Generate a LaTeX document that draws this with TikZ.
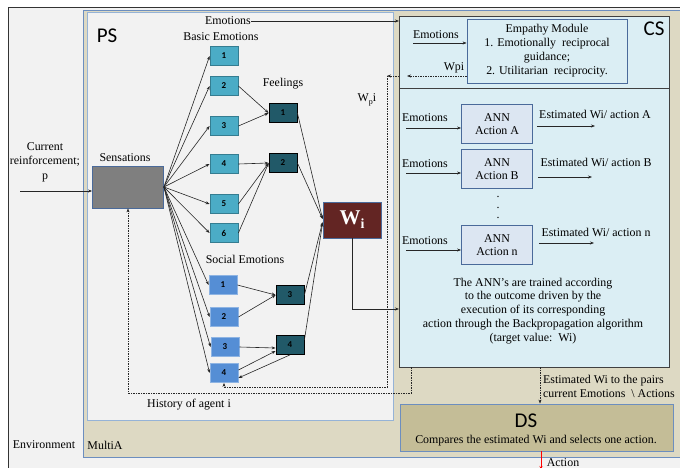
\documentclass[tikz,border=0pt]{standalone}
\usepackage{fontspec}
\setmainfont{Liberation Serif}
\newfontfamily\calfont{Carlito}
\usetikzlibrary{arrows.meta}
\definecolor{envbg}{HTML}{F2F2F2}
\definecolor{multibg}{HTML}{DDD9C3}
\definecolor{multiline}{HTML}{6C8EBF}
\definecolor{psline}{HTML}{95B3D7}
\definecolor{csbg}{HTML}{DBEEF4}
\definecolor{annbg}{HTML}{DCE6F2}
\definecolor{annline}{HTML}{4A6A9A}
\definecolor{basicfill}{HTML}{4BACC6}
\definecolor{basicline}{HTML}{357D91}
\definecolor{socialfill}{HTML}{558ED5}
\definecolor{socialline}{HTML}{8EB4E3}
\definecolor{feelfill}{HTML}{215968}
\definecolor{wifill}{HTML}{632523}
\definecolor{sensfill}{HTML}{7F7F7F}
\definecolor{dsfill}{HTML}{C4BD97}
\begin{document}
\begin{tikzpicture}[x=1pt,y=-1pt,
  font=\fontsize{11.9}{13.5}\selectfont,
  >={Stealth[length=4pt,width=3pt]},
  conn/.style={draw=black!85,line width=0.6pt,->},
  dconn/.style={draw=black!85,line width=0.6pt,dash pattern=on 1.5pt off 1pt},
  numbox/.style={inner sep=0,minimum width=28,minimum height=19,font=\calfont\bfseries\fontsize{9}{10}\selectfont,line width=0.8pt},
  basicbox/.style={numbox,draw=basicline,fill=basicfill},
  socialbox/.style={numbox,draw=socialline,fill=socialfill},
  feelbox/.style={numbox,draw=black,fill=feelfill,text=black},
  annbox/.style={draw=annline,fill=annbg,line width=0.8pt,minimum width=71,minimum height=39,inner sep=0,align=center,font=\fontsize{11.9}{13}\selectfont},
  lbl/.style={inner sep=0},
  biglbl/.style={inner sep=0,font=\calfont\fontsize{21}{22}\selectfont}
]
\useasboundingbox (0,0) rectangle (680,468);
% environment
\fill[white] (0,0) rectangle (680,468);
\fill[envbg] (8,7) rectangle (680,468);
\draw[line width=0.8pt,black!80] (680,7) -- (8,7) -- (8,468);
% MultiA
\fill[multibg] (83,10) rectangle (680,457);
\draw[line width=0.8pt,multiline] (680,10) -- (83,10) -- (83,457) -- (680,457);
% PS
\draw[line width=0.8pt,psline,fill=envbg] (87,12) rectangle (393,420);
% CS
\draw[line width=0.8pt,black!75,fill=csbg] (399,16) rectangle (669,367);
\draw[line width=0.8pt,black!75] (399,88) -- (669,88);
% labels
\node[biglbl] (pslbl) at (107,36) {PS};
\node[biglbl] (cslbl) at (654,29) {CS};
\node[lbl] (envlbl) at (44,445) {Environment};
\node[lbl] (multilbl) at (105,445) {MultiA};
\node[lbl,align=center,font=\fontsize{11.9}{14.5}\selectfont] (cur) at (45,162) {Current\\reinforcement;\\p};
\node[lbl] (senslbl) at (125,158) {Sensations};
\node[lbl] (basiclbl) at (221,37) {Basic Emotions};
\node[lbl] (feellbl) at (283,84) {Feelings};
\node[lbl] (sociallbl) at (245,259) {Social Emotions};
\node[lbl] (hist) at (189,405) {History of agent i};
\node[lbl] (wpilbl) at (367,100) {W\raisebox{-0.5ex}{\fontsize{8}{8}\selectfont p}i};
% Sensations
\node[draw=annline,fill=sensfill,line width=0.8pt,minimum width=71,minimum height=42,inner sep=0] (sens) at (128,187) {};
\coordinate (curstart) at (20,191);
\draw[conn] (curstart) -- ([yshift=-4pt]sens.west);
% basic emotions
\node[basicbox] (b1) at (224,56) {1};
\node[basicbox] (b2) at (224,86) {2};
\node[basicbox] (b3) at (224,126) {3};
\node[basicbox] (b4) at (224,164) {4};
\node[basicbox] (b5) at (224,204) {5};
\node[basicbox] (b6) at (224,233) {6};
% social emotions
\node[socialbox] (s1) at (223,285) {1};
\node[socialbox] (s2) at (224,317) {2};
\node[socialbox] (s3) at (225,347) {3};
\node[socialbox] (s4) at (224,373) {4};
% feelings
\node[feelbox] (f1) at (283,113) {1};
\node[feelbox] (f2) at (283,163) {2};
\node[feelbox] (f3) at (290,295) {3};
\node[feelbox] (f4) at (290,345) {4};
% Wi
\node[draw=annline,fill=wifill,line width=0.8pt,minimum width=58,minimum height=36,inner sep=0,text=white,font=\bfseries\fontsize{21}{21}\selectfont] (wi) at (352,220) {W\raisebox{-0.4ex}{\fontsize{14}{14}\selectfont i}};
% fan from sensations
\foreach \t in {b1,b2,b3,b4,b5,b6,s1,s2,s3,s4}{
  \draw[conn] (sens.east) -- (\t.west);
}
% basic -> feelings
\draw[conn] (b2.east) -- (f1.west);
\draw[conn] (b3.east) -- (f1.west);
\draw[conn] (b4.east) -- (f2.west);
\draw[conn] (b5.east) -- (f2.west);
\draw[conn] (b6.east) -- (f2.west);
% social -> feelings
\draw[conn] (s1.east) -- (f3.west);
\draw[conn] (s2.east) -- (f3.west);
\draw[conn] (s3.east) -- ([yshift=-3pt]f4.west);
\draw[conn] ([yshift=3pt]s4.east) -- ([yshift=-6pt]f4.west);
\draw[conn] (f4.south) -- ([yshift=-5pt]s4.east);
% feelings -> Wi
\draw[conn] (f1.east) -- ([yshift=1pt]wi.west);
\draw[conn] (f2.east) -- ([yshift=1pt]wi.west);
\draw[conn] (f3.east) -- ([yshift=-2pt]wi.west);
\draw[conn] ([yshift=5pt]f4.east) -- ([yshift=-3pt]wi.west);
% Wi -> CS
\coordinate (wicorner) at (352,309);
\coordinate (csin) at (399,309);
\draw[conn] (wi.south) -- (wicorner) -- (csin);
% top Emotions -> CS
\node[lbl] (emotop) at (228,21) {Emotions};
\coordinate (cstopin) at (399,21);
\draw[conn] (emotop.east) -- (cstopin);
% Empathy module
\node[draw=annline,fill=csbg,line width=0.8pt,minimum width=160,minimum height=64,inner sep=0,align=center,font=\fontsize{11.9}{14}\selectfont] (emp) at (547,51) {Empathy Module\\1. Emotionally\ \ reciprocal\\guidance;\\2. Utilitarian\ \ reciprocity.};
\node[lbl] (emoemp) at (436,35) {Emotions};
\coordinate (emoempstart) at (413,43);
\draw[conn] (emoempstart) -- ([yshift=8pt]emp.west);
\node[lbl] (wpitxt) at (454,68) {Wpi};
\coordinate (wpiend) at (407,76);
\coordinate (wpiedge) at (399,76);
\coordinate (wpicorner) at (387,76);
\coordinate (wpidown) at (387,387);
\coordinate (wpileft) at (224,387);
\draw[dconn,->] ([yshift=-25pt]emp.west) -- (wpiend);
\draw[dconn,->] (wpiedge) -- (wpicorner);
\draw[dconn,->] (wpicorner) -- (wpidown) -- (wpileft) -- (s4.south);
% history dashed to sensations
\coordinate (hstart) at (411,367);
\coordinate (hdown) at (411,393);
\coordinate (hleft) at (128,393);
\draw[dconn,->] (hstart) -- (hdown) -- (hleft) -- (sens.south);
% ANN rows
\node[annbox] (annA) at (497,124) {ANN\\Action A};
\node[annbox] (annB) at (497,169) {ANN\\Action B};
\node[annbox] (annN) at (497,245) {ANN\\Action n};
\node[lbl] (emoA) at (425,118) {Emotions};
\node[lbl] (emoB) at (425,164) {Emotions};
\node[lbl] (emoN) at (425,241) {Emotions};
\coordinate (eAs) at (406,128);
\coordinate (eBs) at (406,173);
\coordinate (eNs) at (406,250);
\draw[conn] (eAs) -- ([yshift=-4pt]annA.west);
\draw[conn] (eBs) -- ([yshift=-4pt]annB.west);
\draw[conn] (eNs) -- ([yshift=-5pt]annN.west);
\node[lbl] (estA) at (595,114) {Estimated Wi/ action A};
\node[lbl] (estB) at (596,162) {Estimated Wi/ action B};
\node[lbl] (estN) at (596,232) {Estimated Wi/ action n};
\coordinate (oAe) at (595,126);
\coordinate (oBe) at (592,177);
\coordinate (oNe) at (594,243);
\draw[conn] ([xshift=4pt,yshift=-2pt]annA.east) -- (oAe);
\draw[conn] ([xshift=5pt,yshift=-8pt]annB.east) -- (oBe);
\draw[conn] ([xshift=6pt,yshift=2pt]annN.east) -- (oNe);
\node[lbl,align=center,font=\fontsize{11.9}{10.5}\selectfont] (dots) at (498,207.5) {.\\.\\.};
\node[lbl,align=center,font=\fontsize{11.9}{13.9}\selectfont] (para) at (533,311) {The ANN's are trained according\\to the outcome driven by the\\execution of its corresponding\\action through the Backpropagation algorithm\\(target value:\ \ Wi)};
% DS
\node[draw=multiline,fill=dsfill,line width=0.8pt,minimum width=273,minimum height=47,inner sep=0] (ds) at (536.5,427.5) {};
\node[biglbl] (dslbl) at (526,421) {DS};
\node[lbl] (dstxt) at (536,441) {Compares the estimated Wi and selects one action.};
\coordinate (csbot) at (540,367);
\draw[dconn,->,line width=0.8pt] (csbot) -- (ds.north -| csbot);
\node[lbl,align=left,anchor=west,font=\fontsize{11.9}{14}\selectfont] (esttxt) at (543,386) {Estimated Wi to the pairs\\current Emotions \ \textbackslash\ Actions};
\coordinate (actend) at (541,470);
\draw[->,red,line width=0.8pt] (ds.south -| actend) -- (actend);
\node[lbl] (actlbl) at (563,463) {Action};
\end{tikzpicture}
\end{document}
